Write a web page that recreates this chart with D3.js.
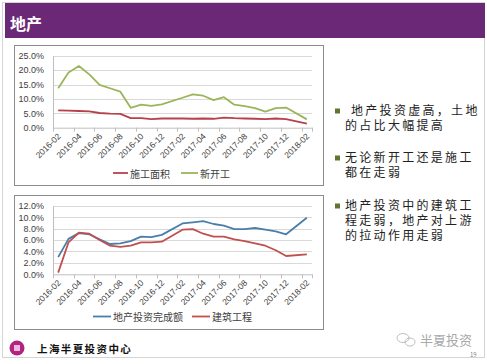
<!DOCTYPE html>
<html><head><meta charset="utf-8">
<script src="https://cdn.jsdelivr.net/npm/d3@7"></script>
<style>html,body{margin:0;padding:0;background:#fff;}svg{display:block;}text{font-family:"Noto Sans CJK SC","Noto Sans",sans-serif;}</style>
</head><body>
<script>
const categories = ["2016-02","2016-03","2016-04","2016-05","2016-06","2016-07","2016-08","2016-09","2016-10","2016-11","2016-12","2017-01","2017-02","2017-03","2017-04","2017-05","2017-06","2017-07","2017-08","2017-09","2017-10","2017-11","2017-12","2018-01","2018-02"];
// chart 1 (% growth), null = month not reported
const constructionArea = [6.0,5.9,5.8,5.7,5.1,4.9,4.8,3.3,3.3,3.0,3.2,null,3.2,3.1,3.2,3.1,3.5,3.3,3.2,3.1,3.0,3.2,3.0,null,1.4];
const newStarts = [13.7,19.2,21.4,18.5,14.9,13.7,12.5,6.9,8.0,7.6,8.1,null,10.4,11.6,11.1,9.6,10.6,8.0,7.5,6.8,5.6,6.8,7.0,null,2.9];
// chart 2
const investment = [3.0,6.2,7.2,7.0,6.1,5.3,5.4,5.8,6.6,6.5,6.9,null,8.9,9.1,9.3,8.8,8.5,7.9,7.9,8.1,7.8,7.5,7.0,null,9.9];
const buildingWork = [0.3,5.6,7.3,7.1,6.0,5.0,4.8,5.0,5.6,5.6,5.7,null,7.8,7.9,7.1,6.6,6.6,6.1,5.8,5.4,5.0,4.2,3.2,null,3.5];
const yTicks1 = [0,5,10,15,20,25];
const yTicks2 = [0,2,4,6,8,10,12];
const series1 = [{name:"施工面积", values:constructionArea, color:"#b8404c"},{name:"新开工", values:newStarts, color:"#9bb55a"}];
const series2 = [{name:"地产投资完成额", values:investment, color:"#4a7eaa"},{name:"建筑工程", values:buildingWork, color:"#c0504d"}];
const bullets = [
  [" 地产投资虚高，土地","的占比大幅提高"],
  ["无论新开工还是施工","都在走弱"],
  ["地产投资中的建筑工","程走弱，地产对上游","的拉动作用走弱"]
];

const W=487,H=364;
const svg=d3.select("body").append("svg").attr("width",W).attr("height",H);
svg.append("rect").attr("width",W).attr("height",H).attr("fill","#fff");
svg.append("rect").attr("x",2.5).attr("y",2.5).attr("width",482).attr("height",355).attr("fill","none").attr("stroke","#d4d4d4");
// header
svg.append("rect").attr("x",5).attr("y",3).attr("width",480).attr("height",35).attr("fill","#6a2877");
svg.append("text").attr("x",10).attr("y",23).attr("dominant-baseline","central").attr("fill","#fff").attr("font-size",16).attr("font-weight","bold").text("地产");

const latin="'Liberation Sans',Arial,sans-serif";
function chart(box, plot, yMax, yTicks, series, legend){
  svg.append("rect").attr("x",box[0]+0.5).attr("y",box[1]+0.5).attr("width",box[2]-box[0]).attr("height",box[3]-box[1]).attr("fill","#fff").attr("stroke","#8c8c8c");
  const x=d3.scaleBand().domain(categories).range([plot.left,plot.right]);
  const y=d3.scaleLinear().domain([0,yMax]).range([plot.bottom,plot.top]);
  const g=svg.append("g");
  g.selectAll(".grid").data(yTicks.filter(t=>t>0)).join("line")
    .attr("x1",plot.left).attr("x2",plot.right).attr("y1",d=>Math.round(y(d))+0.5).attr("y2",d=>Math.round(y(d))+0.5)
    .attr("stroke","#d9d9d9");
  const ya=g.append("g").attr("transform",`translate(${plot.left},0)`).call(d3.axisLeft(y).tickValues(yTicks).tickSize(0).tickPadding(9).tickFormat(d=>d.toFixed(1)+"%"));
  ya.select(".domain").attr("stroke","#bfbfbf");
  ya.selectAll("text").attr("font-size",9).attr("fill","#404040").style("font-family",latin);
  const xa=g.append("g").attr("transform",`translate(0,${plot.bottom})`).call(d3.axisBottom(x).tickValues(categories.filter((c,i)=>i%2===0)).tickSize(0).tickPadding(0));
  xa.select(".domain").attr("stroke","#bfbfbf");
  xa.selectAll(".tick text").attr("font-size",8.5).attr("fill","#404040").style("font-family",latin)
    .attr("text-anchor","end").attr("dy","0.35em").attr("transform","translate(1,7) rotate(-45)");
  const tickPos=categories.filter((c,i)=>i%2===0).map(c=>x(c)).concat([plot.right]);
  g.selectAll(".tm").data(tickPos).join("line").attr("x1",d=>Math.round(d)+0.5).attr("x2",d=>Math.round(d)+0.5)
    .attr("y1",plot.bottom).attr("y2",plot.bottom+4).attr("stroke","#bfbfbf");
  const line=d3.line().x(d=>x(d.c)+x.bandwidth()/2).y(d=>y(d.v));
  series.forEach(s=>{
    const pts=categories.map((c,i)=>({c,v:s.values[i]})).filter(d=>d.v!=null);
    g.append("path").attr("d",line(pts)).attr("fill","none").attr("stroke",s.color).attr("stroke-width",1.8).attr("stroke-linejoin","round");
  });
  legend.forEach((L,i)=>{
    const s=series[i];
    g.append("line").attr("x1",L[0]).attr("x2",L[1]).attr("y1",plot.legendY).attr("y2",plot.legendY).attr("stroke",s.color).attr("stroke-width",1.8);
    g.append("text").attr("x",L[1]+2).attr("y",plot.legendY).attr("dominant-baseline","central").attr("font-size",10).attr("fill","#404040").text(s.name);
  });
}
chart([14,45,323,185],{left:53,right:312,top:55.7,bottom:127.7,legendY:173},25,yTicks1,series1,[[113,128],[181,198]]);
chart([14,195,323,329],{left:53,right:312,top:205.7,bottom:274.3,legendY:316.5},12,yTicks2,series2,[[93,111],[192,210]]);

// right text
const paraTop=[111,158,206];
const lineStep=14.8;
bullets.forEach((p,pi)=>{
  svg.append("rect").attr("x",335).attr("y",paraTop[pi]-2.5).attr("width",5).attr("height",5).attr("fill","#5f7530");
  p.forEach((s,li)=>{
    const lead=s.startsWith(" ");
    svg.append("text").attr("x",lead?351:345).attr("y",paraTop[pi]+li*lineStep+4.3)
      .style("font-family","'Liberation Sans','Noto Sans CJK SC',sans-serif")
      .attr("font-size",12).attr("letter-spacing",2.3).attr("fill","#222").text(s.trim());
  });
});

// footer
svg.append("circle").attr("cx",17).attr("cy",348).attr("r",7.5).attr("fill","#b0237f");
svg.append("rect").attr("x",14).attr("y",345).attr("width",6).attr("height",6).attr("fill","#f0b8dc");
svg.append("text").attr("x",37).attr("y",348).attr("dominant-baseline","central").attr("font-size",10.5).attr("font-weight","bold").attr("letter-spacing",1.4).attr("fill","#111").text("上海半夏投资中心");
const wx=svg.append("g").attr("fill","none").attr("stroke","#b8b8b8").attr("stroke-width",0.9);
wx.append("ellipse").attr("cx",403).attr("cy",338).attr("rx",6).attr("ry",4.5);
wx.append("ellipse").attr("cx",410).attr("cy",342).attr("rx",5).attr("ry",4);
svg.append("text").attr("x",420).attr("y",339.5).attr("dominant-baseline","central").attr("font-size",13).attr("fill","#a8a8a8").text("半夏投资");
svg.append("text").attr("x",470).attr("y",354).attr("dominant-baseline","central").attr("font-size",6).attr("fill","#888").text("19");
</script>
</body></html>
